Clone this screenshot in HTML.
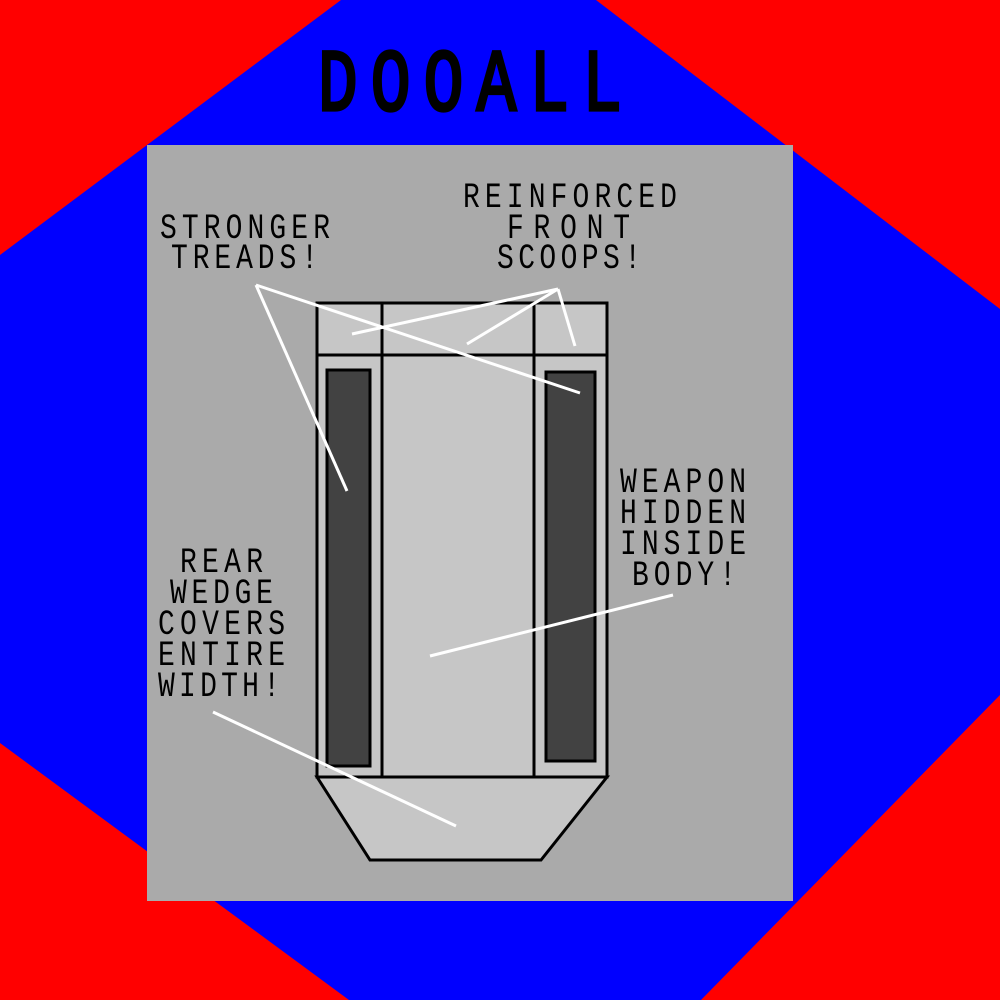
<!DOCTYPE html>
<html><head><style>html,body{margin:0;padding:0;background:#f00;}svg{display:block}</style></head>
<body>
<svg width="1000" height="1000" viewBox="0 0 1000 1000" xmlns="http://www.w3.org/2000/svg">
<rect width="1000" height="1000" fill="#ff0000"/>
<polygon points="341,0 596,0 1000,309 1000,695 701,1000 349,1000 0,743 0,255" fill="#0000ff"/>
<rect x="147" y="145" width="646" height="756" fill="#aaaaaa"/>
<g stroke="#000" stroke-width="3" fill="#c6c6c6">
<polygon points="317,777 607,777 541,860 370,860"/>
<rect x="317" y="303" width="290" height="474"/>
<line x1="317" y1="355" x2="607" y2="355"/>
<line x1="382" y1="303" x2="382" y2="777"/>
<line x1="534" y1="303" x2="534" y2="777"/>
<rect x="327" y="370" width="43" height="396" fill="#424242"/>
<rect x="546" y="372" width="49" height="389" fill="#424242"/>
</g>
<g stroke="#fff" stroke-width="3" fill="none">
<line x1="256" y1="285" x2="580" y2="393"/>
<line x1="256" y1="285" x2="347" y2="491"/>
<line x1="558" y1="289" x2="352" y2="334"/>
<line x1="558" y1="289" x2="467" y2="344"/>
<line x1="558" y1="289" x2="575" y2="346"/>
<line x1="673" y1="595" x2="430" y2="656"/>
<line x1="213" y1="712" x2="456" y2="826"/>
</g>
<g font-family="'Liberation Mono', monospace" fill="#000">
<g transform="scale(1,1.33)">
<text x="318" y="82.7" font-size="66" textLength="304" lengthAdjust="spacing" stroke="#000" stroke-width="2.5">DOOALL</text>
</g>
<g font-size="28" transform="scale(1,1.25)">
<text x="160" y="190.4" textLength="170" lengthAdjust="spacing">STRONGER</text>
<text x="171" y="214.4" textLength="147" lengthAdjust="spacing">TREADS!</text>
<text x="463" y="165.6" textLength="214" lengthAdjust="spacing">REINFORCED</text>
<text x="507" y="190.4" textLength="123" lengthAdjust="spacing">FRONT</text>
<text x="497" y="214.4" textLength="144" lengthAdjust="spacing">SCOOPS!</text>
<text x="620" y="393.6" textLength="126" lengthAdjust="spacing">WEAPON</text>
<text x="620" y="418.4" textLength="126" lengthAdjust="spacing">HIDDEN</text>
<text x="620" y="443.2" textLength="126" lengthAdjust="spacing">INSIDE</text>
<text x="632" y="468" textLength="104" lengthAdjust="spacing">BODY!</text>
<text x="180" y="457.6" textLength="83" lengthAdjust="spacing">REAR</text>
<text x="170" y="482.4" textLength="103" lengthAdjust="spacing">WEDGE</text>
<text x="158" y="507.2" textLength="127" lengthAdjust="spacing">COVERS</text>
<text x="158" y="532" textLength="127" lengthAdjust="spacing">ENTIRE</text>
<text x="158" y="556.8" textLength="122" lengthAdjust="spacing">WIDTH!</text>
</g>
</g>
</svg>
</body></html>
